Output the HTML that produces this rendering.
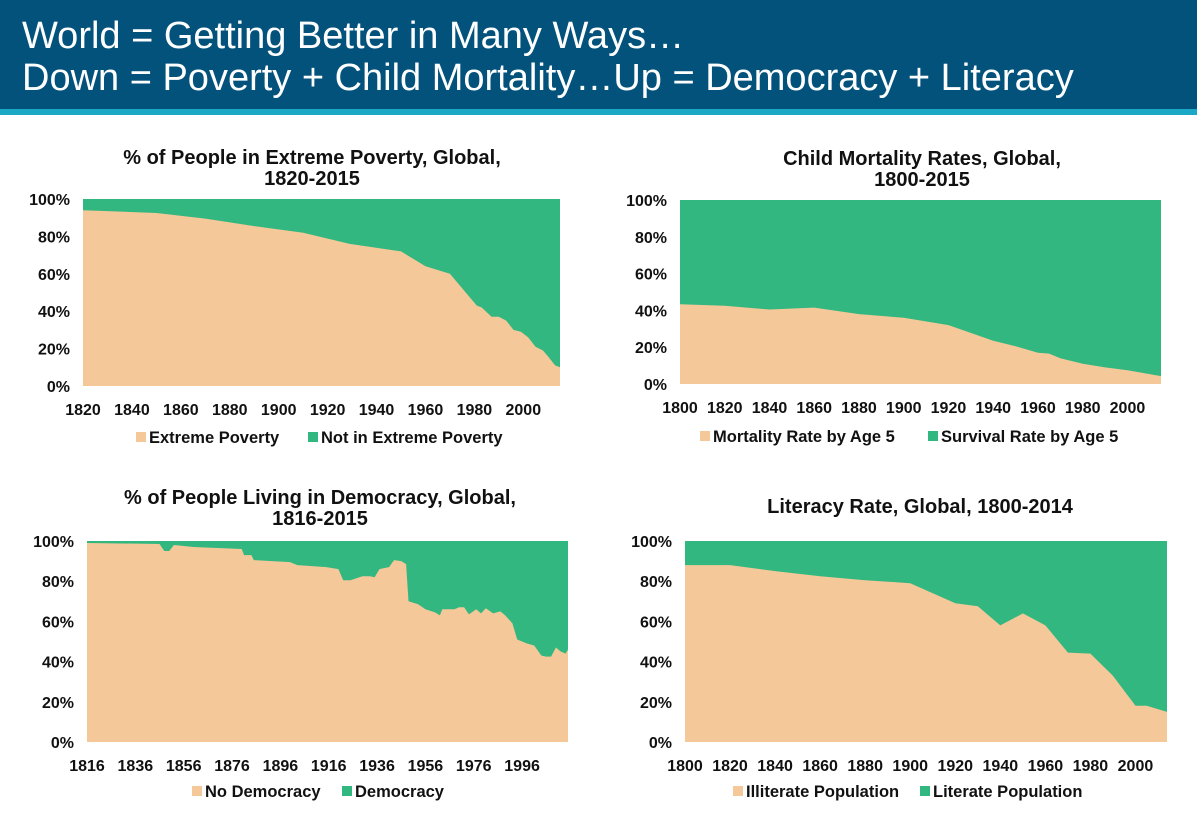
<!DOCTYPE html>
<html><head><meta charset="utf-8"><style>
body{margin:0;width:1197px;height:821px;background:#fff;font-family:"Liberation Sans",Arial,sans-serif;overflow:hidden}
svg text{font-family:"Liberation Sans",Arial,sans-serif}
</style></head><body>
<svg width="1197" height="821" xmlns="http://www.w3.org/2000/svg" id="root">
<rect x="0" y="0" width="1197" height="109" fill="#03527c"/>
<rect x="0" y="109" width="1197" height="6" fill="#1ba8c6"/>
<text x="22" y="48" fill="#fff" font-size="38">World = Getting Better in Many Ways…</text>
<text x="22" y="90" fill="#fff" font-size="38">Down = Poverty + Child Mortality…Up = Democracy + Literacy</text>
<g id="charts"></g>
</svg>
<script>
const povertyYears=[1820,1850,1870,1890,1910,1929,1950,1960,1970,1981,1983,1987,1990,1993,1996,1999,2002,2005,2008,2010,2013,2015];
const povertyValues=[94,92.5,89.5,85.5,82,76,72,64,60,43,42,37,37,35,30,29,26,21,19,16,11,10];
const povertyTicks=[1820,1840,1860,1880,1900,1920,1940,1960,1980,2000];
const mortalityYears=[1800,1820,1840,1860,1880,1900,1920,1940,1950,1960,1965,1970,1980,1990,2000,2015];
const mortalityValues=[43.3,42.5,40.5,41.5,38,36,32,23.5,20.5,17,16.5,14,11,9,7.5,4.3];
const mortalityTicks=[1800,1820,1840,1860,1880,1900,1920,1940,1960,1980,2000];
const democracyYears=[1816,1846,1848,1850,1852,1860,1870,1880,1881,1884,1885,1900,1903,1915,1920,1922,1925,1930,1933,1935,1937,1941,1943,1946,1948,1949,1953,1956,1960,1962,1963,1968,1970,1972,1974,1977,1979,1981,1984,1987,1989,1992,1994,1998,2001,2004,2006,2008,2010,2012,2014,2015];
const democracyValues=[99,98.5,95,95,98,97,96.5,96,93,93,90.5,89.5,88,87,86,80.5,80.5,82.5,82.5,82,86,87,90.5,90,88.5,70,68.5,66,64.5,63,66,66,67,67,63.5,66,64,66.5,64,65,63,59,51,49,48,43,42.5,42.5,47,45,44,46];
const democracyTicks=[1816,1836,1856,1876,1896,1916,1936,1956,1976,1996];
const literacyYears=[1800,1820,1840,1860,1880,1900,1910,1920,1930,1940,1950,1960,1970,1980,1990,2000,2005,2014];
const literacyValues=[88,88,85,82.5,80.5,79,74,69,67.5,58,64,58,44.5,44,33,18,18,15];
const literacyTicks=[1800,1820,1840,1860,1880,1900,1920,1940,1960,1980,2000];
const pctTicks=[0,20,40,60,80,100];

const NS="http://www.w3.org/2000/svg";
const root=document.getElementById('charts');
function mk(tag,attrs,parent,txt){const e=document.createElementNS(NS,tag);for(const k in attrs)e.setAttribute(k,attrs[k]);if(txt!==undefined)e.textContent=txt;parent.appendChild(e);return e;}

function chart(cfg){
  const g=mk('g',{},root);
  
  
  const x0=cfg.x0,x1=cfg.x1,y0=cfg.y0,y1=cfg.y1;
  const d0=cfg.years[0],d1=cfg.years[cfg.years.length-1];
  const sx=v=>x0+(v-d0)/(d1-d0)*(x1-x0);
  const sy=v=>y1-v/100*(y1-y0);
  const top=mk('rect',{x:x0,y:y0,width:x1-x0,height:y1-y0,fill:'#33b781'},g);
  
  
  let d='M'+sx(cfg.years[0])+','+y1;
  cfg.years.forEach((yr,i)=>{d+=' L'+sx(yr).toFixed(1)+','+sy(cfg.values[i]).toFixed(1);});
  d+=' L'+sx(d1)+','+y1+' Z';
  const low=mk('path',{d:d,fill:'#f5c899'},g);
  
  
  cfg.title.forEach((t,i)=>{
    const e=mk('text',{x:cfg.tx,y:cfg.ty+i*21,'text-anchor':'middle','font-size':'20','font-weight':'bold',fill:'#111'},g,t);
    
    
  });
  pctTicks.forEach(p=>{
    const e=mk('text',{x:x0-13,y:sy(p)+6,'text-anchor':'end','font-size':'16','font-weight':'bold',fill:'#111'},g,p+'%');
    
    
  });
  cfg.ticks.forEach(t=>{
    const e=mk('text',{x:sx(t),y:y1+29,'text-anchor':'middle','font-size':'16','font-weight':'bold',fill:'#111'},g,t);
    
    
  });
  cfg.legend.forEach((l,i)=>{
    const r=mk('rect',{x:l[0],y:cfg.ly-6,width:10,height:10,fill:i?'#33b781':'#f5c899'},g);
    
    
    const e=mk('text',{x:l[0]+13,y:cfg.ly+5,'font-size':'16.5','font-weight':'bold',fill:'#111'},g,l[1]);
    
    
  });
}
chart({name:'poverty-chart',years:povertyYears,values:povertyValues,ticks:povertyTicks,x0:83,x1:560,y0:199,y1:386,tx:312,ty:164,title:['% of People in Extreme Poverty, Global,','1820-2015'],ly:438,legend:[[136,'Extreme Poverty'],[308,'Not in Extreme Poverty']]});
chart({name:'mortality-chart',years:mortalityYears,values:mortalityValues,ticks:mortalityTicks,x0:680,x1:1161,y0:200,y1:384,tx:922,ty:165,title:['Child Mortality Rates, Global,','1800-2015'],ly:437,legend:[[700,'Mortality Rate by Age 5'],[928,'Survival Rate by Age 5']]});
chart({name:'democracy-chart',years:democracyYears,values:democracyValues,ticks:democracyTicks,x0:87,x1:568,y0:541,y1:742,tx:320,ty:504,title:['% of People Living in Democracy, Global,','1816-2015'],ly:792,legend:[[192,'No Democracy'],[342,'Democracy']]});
chart({name:'literacy-chart',years:literacyYears,values:literacyValues,ticks:literacyTicks,x0:685,x1:1167,y0:541,y1:742,tx:920,ty:513,title:['Literacy Rate, Global, 1800-2014'],ly:792,legend:[[733,'Illiterate Population'],[920,'Literate Population']]});
</script>
</body></html>
